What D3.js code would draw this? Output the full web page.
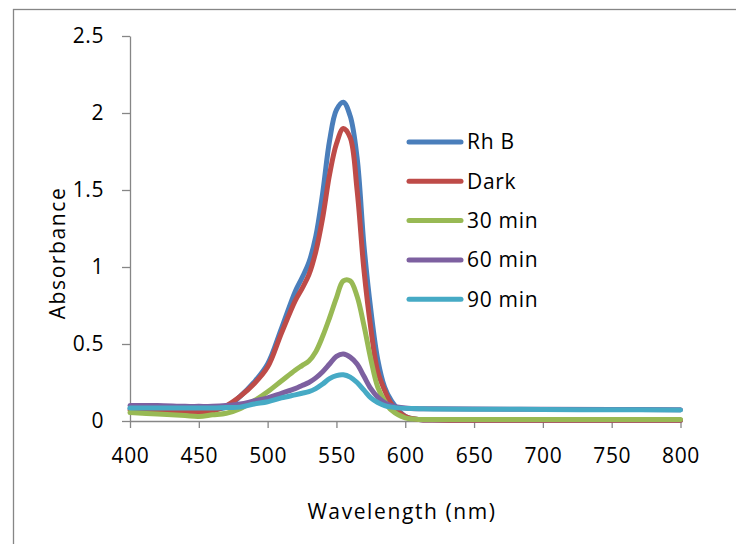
<!DOCTYPE html>
<html>
<head>
<meta charset="utf-8">
<script src="https://cdn.jsdelivr.net/npm/d3@7"></script>
<style>
  body { margin: 0; background: #fff; }
  svg text { font-family: "Open Sans", sans-serif; fill: #000; }
</style>
</head>
<body>
<div id="chart"></div>
<script>
var wavelengths = [400, 420, 440, 450, 460, 470, 480, 490, 500, 510, 520, 525, 530, 535, 540, 545, 550, 555, 560, 565, 570, 575, 580, 585, 590, 600, 610, 620, 650, 700, 750, 800]

var rhB   = [0.08, 0.075, 0.07, 0.07, 0.075, 0.09, 0.16, 0.25, 0.37, 0.6, 0.84, 0.93, 1.03, 1.2, 1.48, 1.82, 2.02, 2.07, 1.98, 1.71, 1.14, 0.72, 0.4, 0.22, 0.13, 0.03, 0.01, 0.006, 0.005, 0.005, 0.005, 0.005]
var dark  = [0.07, 0.07, 0.063, 0.06, 0.065, 0.1, 0.16, 0.24, 0.35, 0.57, 0.78, 0.86, 0.95, 1.1, 1.32, 1.6, 1.8, 1.9, 1.84, 1.5, 0.98, 0.6, 0.32, 0.2, 0.11, 0.03, 0.01, 0.006, 0.005, 0.005, 0.005, 0.005]
var min30 = [0.055, 0.045, 0.035, 0.03, 0.04, 0.05, 0.08, 0.13, 0.19, 0.26, 0.33, 0.36, 0.39, 0.45, 0.55, 0.67, 0.8, 0.91, 0.91, 0.81, 0.62, 0.4, 0.22, 0.13, 0.07, 0.02, 0.01, 0.01, 0.01, 0.01, 0.01, 0.01]
var min60 = [0.1, 0.1, 0.095, 0.095, 0.095, 0.1, 0.11, 0.13, 0.15, 0.18, 0.21, 0.23, 0.25, 0.28, 0.32, 0.37, 0.42, 0.435, 0.415, 0.37, 0.29, 0.21, 0.155, 0.12, 0.1, 0.085, 0.08, 0.08, 0.078, 0.076, 0.075, 0.073]
var min90 = [0.085, 0.085, 0.085, 0.085, 0.085, 0.088, 0.09, 0.11, 0.125, 0.15, 0.17, 0.18, 0.19, 0.21, 0.24, 0.275, 0.295, 0.3, 0.285, 0.25, 0.2, 0.15, 0.12, 0.1, 0.09, 0.082, 0.08, 0.078, 0.077, 0.075, 0.073, 0.072]

var seriesNames = ['Rh B', 'Dark', '30 min', '60 min', '90 min']
var seriesValues = [rhB, dark, min30, min60, min90]
var colors = ['#4a7ebb', '#be4b48', '#98b954', '#7d60a0', '#46aac5']

var xTicks = [400, 450, 500, 550, 600, 650, 700, 750, 800]
var yTicks = [0, 0.5, 1, 1.5, 2, 2.5]

var width = 736, height = 544
var svg = d3.select('#chart').append('svg')
  .attr('width', width)
  .attr('height', height)

// outer chart border (runs off the bottom/right of the picture)
svg.append('rect')
  .attr('x', 13.5).attr('y', 9.5)
  .attr('width', 740).attr('height', 560)
  .attr('fill', 'none')
  .attr('stroke', '#868686')
  .attr('stroke-width', 1.3)

var x = d3.scaleLinear().domain([400, 800]).range([130, 680.5])
var y = d3.scaleLinear().domain([0, 2.5]).range([421, 36])

var grey = '#868686'

var xAxis = svg.append('g')
  .attr('transform', 'translate(0,' + y(0) + ')')
  .call(d3.axisBottom(x).tickValues(xTicks).tickSize(7).tickSizeOuter(0).tickPadding(20).tickFormat(d => d))

var yAxis = svg.append('g')
  .attr('transform', 'translate(' + x(400) + ',0)')
  .call(d3.axisLeft(y).tickValues(yTicks).tickSize(8).tickSizeOuter(0).tickPadding(18).tickFormat(d => String(d)))

svg.selectAll('.domain, .tick line').attr('stroke', grey).attr('stroke-width', 1.3)
svg.selectAll('.tick text')
  .attr('font-family', '"Open Sans", sans-serif')
  .attr('font-size', 21)
  .attr('letter-spacing', 0.6)
  .attr('fill', '#000')

var line = d3.line()
  .x((d, i) => x(wavelengths[i]))
  .y(d => y(d))
  .curve(d3.curveCatmullRom.alpha(0.5))

seriesValues.forEach(function(vals, k){
  svg.append('path')
    .attr('d', line(vals))
    .attr('fill', 'none')
    .attr('stroke', colors[k])
    .attr('stroke-width', 5)
    .attr('stroke-linejoin', 'round')
    .attr('stroke-linecap', 'round')
})

// legend
var legend = svg.append('g')
seriesNames.forEach(function(name, k){
  var ly = 142 + k * 39.3
  legend.append('line')
    .attr('x1', 409).attr('x2', 461)
    .attr('y1', ly).attr('y2', ly)
    .attr('stroke', colors[k])
    .attr('stroke-width', 5)
    .attr('stroke-linecap', 'round')
  legend.append('text')
    .attr('x', 467).attr('y', ly)
    .attr('dy', '0.35em')
    .attr('font-size', 21)
    .attr('letter-spacing', 0.7)
    .text(name)
})

// axis titles
svg.append('text')
  .attr('x', 402).attr('y', 519)
  .attr('text-anchor', 'middle')
  .attr('font-size', 21)
  .attr('letter-spacing', 1.6)
  .text('Wavelength (nm)')

svg.append('text')
  .attr('transform', 'translate(65,253) rotate(-90)')
  .attr('text-anchor', 'middle')
  .attr('font-size', 21)
  .attr('letter-spacing', 1.6)
  .text('Absorbance')
</script>
</body>
</html>
